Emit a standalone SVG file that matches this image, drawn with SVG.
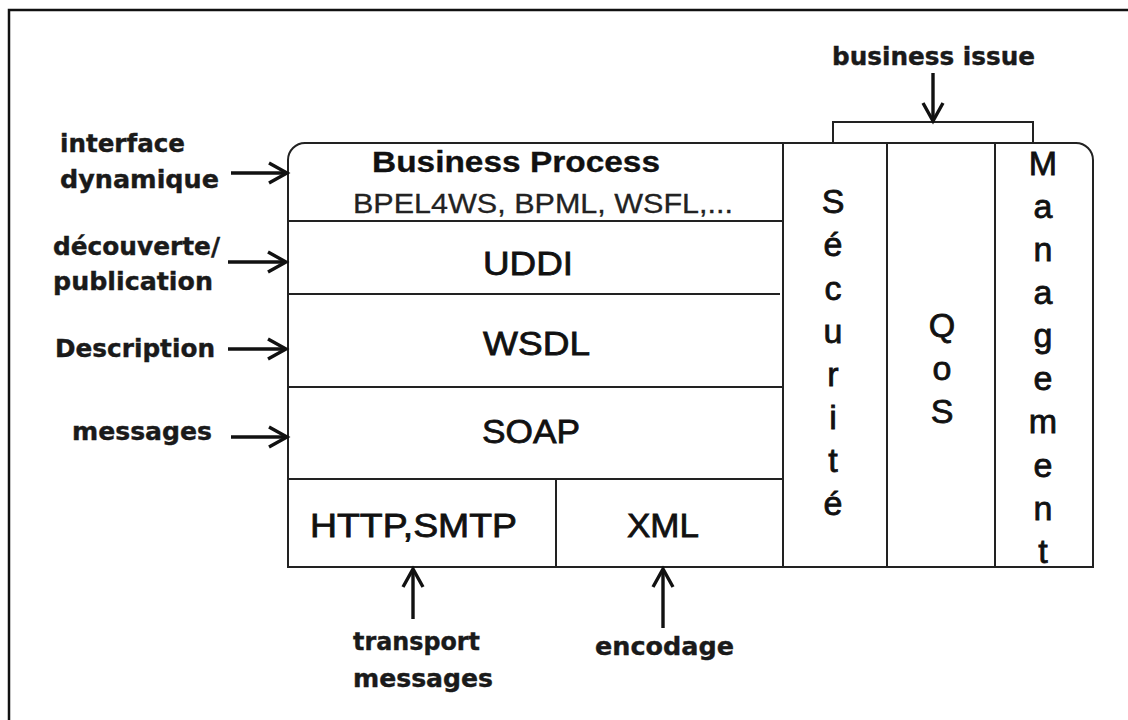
<svg xmlns="http://www.w3.org/2000/svg" width="1128" height="720" viewBox="0 0 1128 720">
  <style>
    .frame { fill: none; stroke: #111; stroke-width: 2.5; }
    .box { fill: #fff; stroke: #222; stroke-width: 2; }
    .rule { fill: none; stroke: #222; stroke-width: 2; }
    .arrow { fill: none; stroke: #111; stroke-width: 3.4; marker-end: url(#head); }
    .note { font-family: "DejaVu Sans", "Liberation Sans", sans-serif; font-weight: bold; font-size: 25px; fill: #1a1a1a; stroke: #1a1a1a; stroke-width: 0.4; }
    .layer { font-family: "Liberation Sans", Arial, sans-serif; font-size: 34px; fill: #111; stroke: #111; stroke-width: 0.8; }
    .title { font-family: "Liberation Sans", Arial, sans-serif; font-weight: bold; font-size: 29px; fill: #111; stroke: #111; stroke-width: 0.3; }
    .sub { font-family: "Liberation Sans", Arial, sans-serif; font-size: 27px; fill: #222; stroke: #222; stroke-width: 0.3; }
    .col { font-family: "Liberation Sans", Arial, sans-serif; font-size: 34px; fill: #111; stroke: #111; stroke-width: 0.8; text-anchor: middle; }
  </style>
  <defs>
    <marker id="head" markerUnits="userSpaceOnUse" markerWidth="30" markerHeight="30" viewBox="-24 -15 28 30" refX="0" refY="0" orient="auto">
      <path d="M-18,-10 L0,0 L-18,10" fill="none" stroke="#111" stroke-width="3.4" stroke-linejoin="miter"/>
    </marker>
  </defs>

  <rect width="1128" height="720" fill="#fff"/>
  <path class="frame" d="M9,720 V10 H1128"/>

  <!-- stack outline with rounded top corners -->
  <g id="stack">
    <path class="box" d="M288,567 V160 A17,17 0 0 1 305,143 H1076 A17,17 0 0 1 1093,160 V567 Z"/>
  </g>

  <g id="business-process">
    <line class="rule" x1="288" y1="221" x2="783" y2="221"/>
    <text class="title" x="372" y="172" textLength="288" lengthAdjust="spacingAndGlyphs">Business Process</text>
    <text class="sub" x="353" y="213" textLength="380" lengthAdjust="spacingAndGlyphs">BPEL4WS, BPML, WSFL,...</text>
  </g>

  <g id="uddi">
    <line class="rule" x1="288" y1="294" x2="780" y2="294"/>
    <text class="layer" x="483" y="275" textLength="90" lengthAdjust="spacingAndGlyphs">UDDI</text>
  </g>

  <g id="wsdl">
    <line class="rule" x1="288" y1="387" x2="783" y2="387"/>
    <text class="layer" x="483" y="355" textLength="107" lengthAdjust="spacingAndGlyphs">WSDL</text>
  </g>

  <g id="soap">
    <line class="rule" x1="288" y1="479" x2="783" y2="479"/>
    <text class="layer" x="482" y="443" textLength="98" lengthAdjust="spacingAndGlyphs">SOAP</text>
  </g>

  <g id="transport">
    <line class="rule" x1="556" y1="479" x2="556" y2="567"/>
    <text class="layer" x="310" y="537" textLength="207" lengthAdjust="spacingAndGlyphs">HTTP,SMTP</text>
  </g>

  <g id="xml">
    <text class="layer" x="627" y="537" textLength="72" lengthAdjust="spacingAndGlyphs">XML</text>
  </g>

  <g id="securite">
    <line class="rule" x1="783" y1="143" x2="783" y2="567"/>
    <text class="col" x="833" y="213">S</text>
    <text class="col" x="833" y="256">é</text>
    <text class="col" x="833" y="300">c</text>
    <text class="col" x="833" y="343">u</text>
    <text class="col" x="833" y="386">r</text>
    <text class="col" x="833" y="429">i</text>
    <text class="col" x="833" y="472">t</text>
    <text class="col" x="833" y="515">é</text>
  </g>

  <g id="qos">
    <line class="rule" x1="887" y1="143" x2="887" y2="567"/>
    <text class="col" x="942" y="337">Q</text>
    <text class="col" x="942" y="380">o</text>
    <text class="col" x="942" y="423">S</text>
  </g>

  <g id="management">
    <line class="rule" x1="995" y1="143" x2="995" y2="567"/>
    <text class="col" x="1043" y="175">M</text>
    <text class="col" x="1043" y="218">a</text>
    <text class="col" x="1043" y="261">n</text>
    <text class="col" x="1043" y="304">a</text>
    <text class="col" x="1043" y="347">g</text>
    <text class="col" x="1043" y="390">e</text>
    <text class="col" x="1043" y="433">m</text>
    <text class="col" x="1043" y="477">e</text>
    <text class="col" x="1043" y="520">n</text>
    <text class="col" x="1043" y="563">t</text>
  </g>

  <!-- bracket grouping the QoS and management columns -->
  <g id="business-issue">
    <path class="rule" d="M833,143 V122 H1033 V143"/>
    <text class="note" x="832" y="65" textLength="203" lengthAdjust="spacingAndGlyphs">business issue</text>
  </g>

  <g id="labels">
    <text class="note" x="60" y="152" textLength="125" lengthAdjust="spacingAndGlyphs">interface</text>
    <text class="note" x="60" y="188" textLength="159" lengthAdjust="spacingAndGlyphs">dynamique</text>
    <text class="note" x="53" y="255" textLength="167" lengthAdjust="spacingAndGlyphs">découverte/</text>
    <text class="note" x="53" y="290" textLength="160" lengthAdjust="spacingAndGlyphs">publication</text>
    <text class="note" x="55" y="357" textLength="160" lengthAdjust="spacingAndGlyphs">Description</text>
    <text class="note" x="72" y="440" textLength="140" lengthAdjust="spacingAndGlyphs">messages</text>
    <text class="note" x="353" y="650" textLength="127" lengthAdjust="spacingAndGlyphs">transport</text>
    <text class="note" x="353" y="687" textLength="140" lengthAdjust="spacingAndGlyphs">messages</text>
    <text class="note" x="595" y="655" textLength="139" lengthAdjust="spacingAndGlyphs">encodage</text>
  </g>

  <g id="connectors">
    <line class="arrow" x1="231" y1="173" x2="287" y2="173"/>
    <line class="arrow" x1="228" y1="262" x2="286" y2="262"/>
    <line class="arrow" x1="228" y1="349" x2="286" y2="349"/>
    <line class="arrow" x1="231" y1="437" x2="287" y2="437"/>
    <line class="arrow" x1="413" y1="619" x2="413" y2="569"/>
    <line class="arrow" x1="663" y1="628" x2="663" y2="569"/>
    <line class="arrow" x1="933" y1="73" x2="933" y2="121"/>
  </g>
</svg>
